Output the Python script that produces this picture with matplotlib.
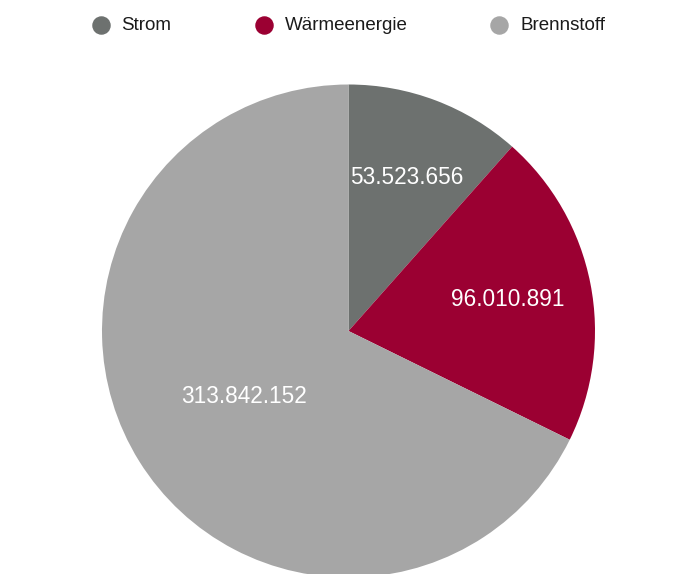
import numpy as np
import matplotlib.pyplot as plt
from matplotlib.lines import Line2D

categories = ["Strom", "Wärmeenergie", "Brennstoff"]
values = [53523656, 96010891, 313842152]
value_labels = ["53.523.656", "96.010.891", "313.842.152"]
colors = ["#6d716f", "#9b0032", "#a6a6a6"]
label_radius = [0.665, 0.66, 0.50]

plt.rcParams["font.family"] = ["Liberation Sans", "DejaVu Sans"]

W, H = 678, 574
fig = plt.figure(figsize=(W / 100, H / 100), dpi=100)
ax = fig.add_axes([0, 0, 1, 1])

cx, cy, r = 348.5, H - 331, 246.5
ax.pie(values, colors=colors, startangle=90, counterclock=False,
       center=(cx, cy), radius=r, frame=True,
       wedgeprops=dict(linewidth=0))
ax.set_xlim(0, W)
ax.set_ylim(0, H)
ax.set_aspect("equal")
ax.axis("off")

total = sum(values)
start = 90.0
for v, lab, lr in zip(values, value_labels, label_radius):
    sweep = 360.0 * v / total
    mid = np.deg2rad(start - sweep / 2)
    ax.text(cx + lr * r * np.cos(mid), cy + lr * r * np.sin(mid), lab,
            color="white", fontsize=16.3, ha="center", va="center")
    start -= sweep

# legend row
legend_x = [100.5, 264, 499]
for x, name, c in zip(legend_x, categories, colors):
    ax.add_line(Line2D([x], [H - 25], marker="o", markersize=12.3,
                       color=c, linestyle="none"))
    ax.text(x + 21, H - 25.5, name, fontsize=13.5, color="#1a1a1a",
            ha="left", va="center")

fig.savefig("out.png", dpi=100)
